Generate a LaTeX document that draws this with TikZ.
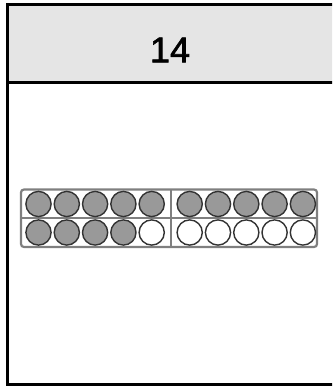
\documentclass[tikz,border=0pt]{standalone}
\usepackage{fontspec}
\setsansfont{Liberation Sans}
\newfontfamily\headfont[FakeBold=1.6]{Liberation Sans}
\definecolor{headgray}{HTML}{E5E5E5}
\definecolor{dotgray}{HTML}{999999}
\definecolor{framegray}{HTML}{7F7F7F}
\begin{document}
\begin{tikzpicture}[x=1pt,y=-1pt,
  counter/.style={draw=black!80,line width=1.4pt,fill=dotgray},
  blank/.style={draw=black!80,line width=1.4pt,fill=white},
  frame/.style={draw=framegray,line width=2.2pt}]
  \useasboundingbox (0,0) rectangle (332,390);
  \clip (0,0) rectangle (332,390);
  % Header band
  \fill[headgray] (7,5) rectangle (334,83);
  \node[font=\headfont\fontsize{36}{40}\selectfont] (number) at (170,50) {14};
  % Card outline
  \draw[line width=3pt] (336,5) -- (7,5) -- (7,384) -- (336,384);
  \draw[line width=3pt] (7,83) -- (336,83);
  % Ten frame
  \draw[frame,rounded corners=3pt] (21,189.5) rectangle (317,247);
  \draw[frame] (21,218) -- (317,218);
  \draw[frame] (170.7,189.5) -- (170.7,247);
  % Top row - all filled
  \foreach \x in {38.5,66.8,95.1,123.4,151.7,189.7,218,246.3,274.6,302.9} {
    \draw[counter] (\x,204) circle (12.6);
  }
  % Bottom row - four filled
  \foreach \x in {38.5,66.8,95.1,123.4} {
    \draw[counter] (\x,232.5) circle (12.6);
  }
  \foreach \x in {151.7,189.7,218,246.3,274.6,302.9} {
    \draw[blank] (\x,232.5) circle (12.6);
  }
\end{tikzpicture}
\end{document}
